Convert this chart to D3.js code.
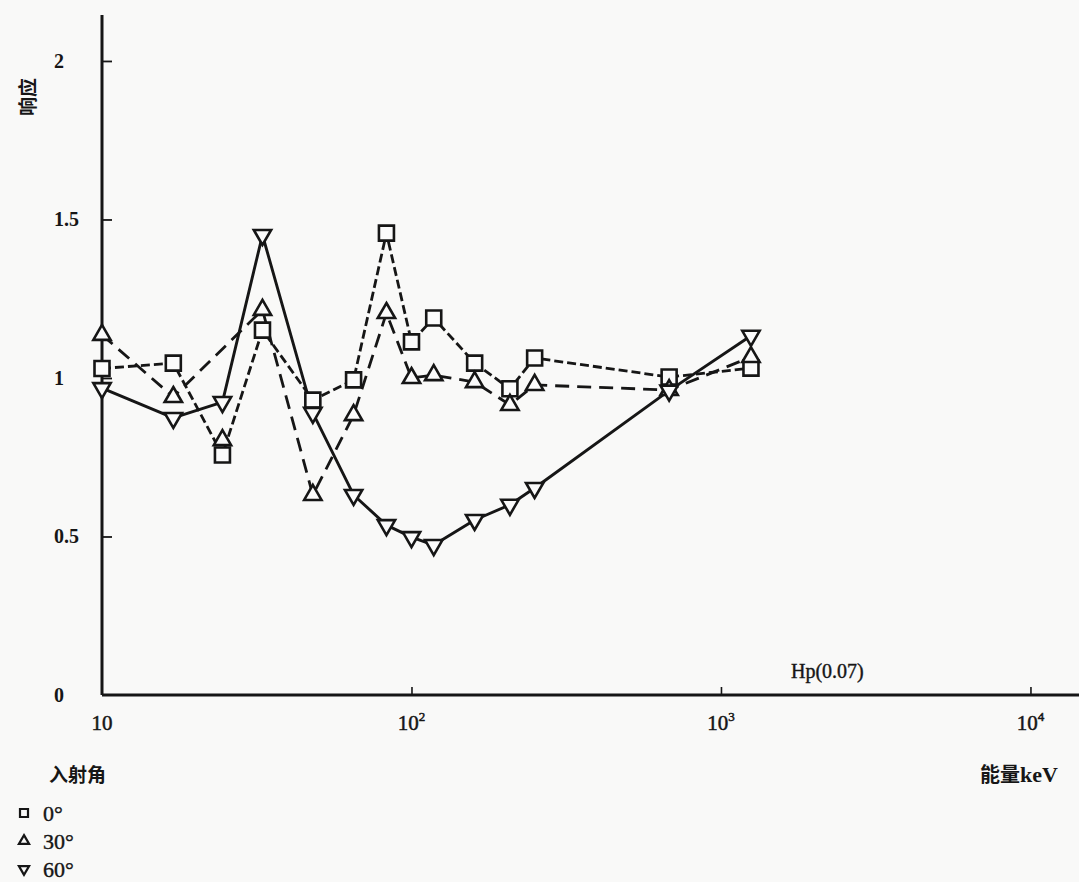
<!DOCTYPE html>
<html>
<head>
<meta charset="utf-8">
<script src="https://cdn.jsdelivr.net/npm/d3@7/dist/d3.min.js"></script>
<style>
  html, body { margin: 0; padding: 0; background: #f9f9f8; }
  svg { display: block; }
</style>
</head>
<body>
<svg id="chart" width="1079" height="882"></svg>
<script>
// Photon energies (keV) of the calibration beams
const energies = [10, 17, 24.5, 33, 48, 65, 83, 100, 118, 160, 208, 250, 680, 1250];

// Relative response per incidence angle
const response0 = [1.03, 1.047, 0.757, 1.151, 0.93, 0.994, 1.457, 1.114, 1.189, 1.047, 0.966, 1.063, 1.003, 1.031];
const response30 = [1.136, 0.94, 0.804, 1.215, 0.631, 0.883, 1.205, 1.0, 1.009, 0.987, 0.915, 0.978, 0.962, 1.066];
const response60 = [0.968, 0.874, 0.924, 1.451, 0.89, 0.631, 0.536, 0.498, 0.473, 0.552, 0.6, 0.653, 0.96, 1.133];

// Energies marked but not joined by the 30° curve
const unjoined30 = [24.5];

const angleLabels = ["0°", "30°", "60°"];
const yTicks = [0, 0.5, 1, 1.5, 2];
const yTickLabels = ["0", "0.5", "1", "1.5", "2"];
const xTicks = [10, 100, 1000, 10000];
const xTickExponents = [null, "2", "3", "4"];

const svg = d3.select("#chart");
const ink = "#161616";

const x = d3.scaleLog().domain([10, 14350]).range([102, 1079]);
const y = d3.scaleLinear().domain([0, 2.145]).range([695, 15]);

// Axes
const xAxis = d3.axisBottom(x).tickValues(xTicks.slice(1)).tickSize(-8).tickFormat("");
const gx = svg.append("g").attr("transform", `translate(0,${y(0)})`).call(xAxis);
gx.select(".domain").attr("stroke", ink).attr("stroke-width", 3).attr("d", `M${x(10)},0H1079`);
gx.selectAll(".tick line").attr("stroke", ink).attr("stroke-width", 1.6);

const yAxis = d3.axisLeft(y).tickValues(yTicks.slice(1)).tickSize(-10).tickFormat("");
const gy = svg.append("g").attr("transform", `translate(${x(10)},0)`).call(yAxis);
gy.select(".domain").attr("stroke", ink).attr("stroke-width", 3).attr("d", `M0,${y(2.145)}V${y(0)}`);
gy.selectAll(".tick line").attr("stroke", ink).attr("stroke-width", 1.8);

// Tick labels
const serif = "'Liberation Serif', 'DejaVu Serif', serif";
svg.append("g").selectAll("text").data(yTicks).join("text")
  .attr("x", 54).attr("y", d => y(d) + 7)
  .attr("font-family", serif).attr("font-size", 20).attr("font-weight", "bold")
  .attr("fill", ink)
  .text((d, i) => yTickLabels[i]);

const xl = svg.append("g").selectAll("text").data(xTicks).join("text")
  .attr("x", d => x(d)).attr("y", 730)
  .attr("text-anchor", "middle")
  .attr("font-family", serif).attr("font-size", 21).attr("fill", ink)
  .attr("stroke", ink).attr("stroke-width", 0.5);
xl.append("tspan").text("10");
xl.filter((d, i) => xTickExponents[i]).append("tspan")
  .attr("font-size", 13).attr("dy", -9)
  .text((d) => xTickExponents[xTicks.indexOf(d)]);

// Titles
const cjk = "'Noto Sans CJK SC', 'Noto Sans', sans-serif";
svg.append("text").attr("transform", "translate(35,97) rotate(-90)")
  .attr("text-anchor", "middle")
  .attr("font-family", cjk).attr("font-size", 19).attr("font-weight", "bold").attr("fill", ink)
  .text("响应");
const eTitle = svg.append("text").attr("x", 980).attr("y", 782)
  .attr("font-family", cjk).attr("font-size", 20).attr("font-weight", "bold").attr("fill", ink);
eTitle.append("tspan").text("能量");
eTitle.append("tspan").attr("font-family", serif).attr("font-size", 22).text("keV");
svg.append("text").attr("x", 791).attr("y", 678)
  .attr("font-family", serif).attr("font-size", 20).attr("fill", ink)
  .attr("stroke", ink).attr("stroke-width", 0.4)
  .text("Hp(0.07)");

// Series
const series = [
  { values: response0, dash: "9,4", width: 2.8, symbol: d3.symbolSquare, size: 225, rot: 0, skip: [] },
  { values: response30, dash: "14,8", width: 2.8, symbol: d3.symbolTriangle, size: 130, rot: 0, skip: unjoined30 },
  { values: response60, dash: null, width: 2.9, symbol: d3.symbolTriangle, size: 130, rot: 180, skip: [] }
];

const line = d3.line().x(d => x(d.e)).y(d => y(d.v));

series.forEach(s => {
  const pts = energies.map((e, i) => ({ e, v: s.values[i] }));
  svg.append("path")
    .datum(pts.filter(p => !s.skip.includes(p.e)))
    .attr("d", line)
    .attr("fill", "none")
    .attr("stroke", ink)
    .attr("stroke-width", s.width)
    .attr("stroke-dasharray", s.dash)
    .attr("stroke-linejoin", "round");
  s.pts = pts;
});

series.forEach(s => {
  svg.append("g").selectAll("path").data(s.pts).join("path")
    .attr("d", d3.symbol().type(s.symbol).size(s.size))
    .attr("transform", d => `translate(${x(d.e)},${y(d.v)}) rotate(${s.rot})`)
    .attr("fill", "#fbfbfb")
    .attr("stroke", ink)
    .attr("stroke-width", 2.6);
});

// Legend
svg.append("text").attr("x", 49).attr("y", 782)
  .attr("font-family", cjk).attr("font-size", 19).attr("font-weight", "bold").attr("fill", ink)
  .text("入射角");
const legendSizes = [64, 45, 45];
const leg = svg.append("g").selectAll("g").data(series).join("g")
  .attr("transform", (d, i) => `translate(24,${813 + i * 28})`);
leg.append("path")
  .attr("d", (d, i) => d3.symbol().type(d.symbol).size(legendSizes[i])())
  .attr("transform", d => `rotate(${d.rot})`)
  .attr("fill", "none").attr("stroke", ink).attr("stroke-width", 2.2);
leg.append("text").attr("x", 19).attr("y", 8)
  .attr("font-family", serif).attr("font-size", 22).attr("fill", ink)
  .attr("stroke", ink).attr("stroke-width", 0.4)
  .text((d, i) => angleLabels[i]);
</script>
</body>
</html>
